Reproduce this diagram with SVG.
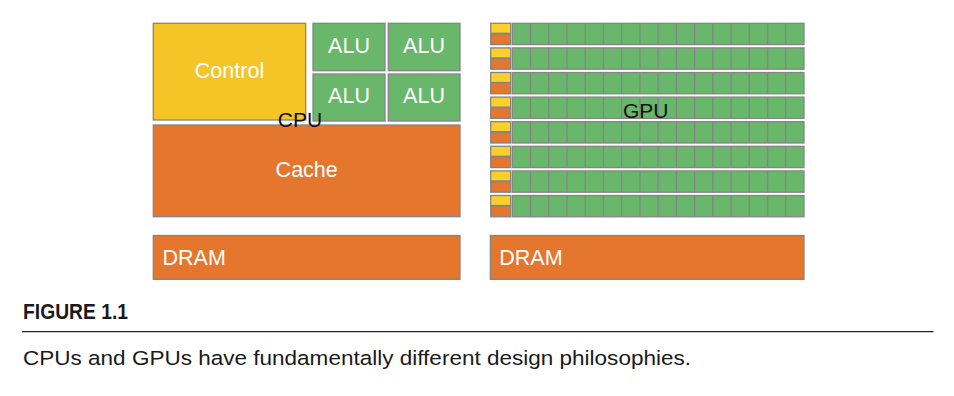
<svg xmlns="http://www.w3.org/2000/svg" xmlns:xlink="http://www.w3.org/1999/xlink" width="954" height="396" viewBox="0 0 954 396">
<style>
.box{stroke:#858585;stroke-width:1.3}
.yel{fill:#F5C427}
.gyel{fill:#FCCF2A}
.org{fill:#E5762D}
.grn{fill:#69B76A}
.lbl{font-family:"Liberation Sans",Arial,sans-serif;font-size:21.5px;fill:#ffffff}
.mid{text-anchor:middle}
.dark{font-family:"Liberation Sans",Arial,sans-serif;font-size:21px;fill:#111111;text-anchor:middle}
</style>
<defs>
<g id="gpurow">
<rect class="box gyel" x="0" y="0" width="20" height="10"/>
<rect class="box org" x="0" y="10.7" width="20" height="10.6"/>
<rect class="box grn" x="21.6" y="0" width="291.7" height="21.3"/>
<path stroke="#858585" stroke-width="1.3" fill="none" d="M39.83 0V21.3M58.06 0V21.3M76.29 0V21.3M94.52 0V21.3M112.75 0V21.3M130.98 0V21.3M149.21 0V21.3M167.44 0V21.3M185.67 0V21.3M203.9 0V21.3M222.13 0V21.3M240.36 0V21.3M258.59 0V21.3M276.82 0V21.3M295.05 0V21.3"/>
</g>
</defs>
<rect width="954" height="396" fill="#ffffff"/>
<g id="cpu">
<g id="control"><rect class="box yel" x="153.3" y="23.3" width="152.4" height="96.7"/><text class="lbl mid" x="229.5" y="78">Control</text></g>
<g id="alu1"><rect class="box grn" x="313" y="23.3" width="72" height="47.4"/><text class="lbl mid" x="349" y="53">ALU</text></g>
<g id="alu2"><rect class="box grn" x="388.3" y="23.3" width="71.7" height="47.4"/><text class="lbl mid" x="424" y="53">ALU</text></g>
<g id="alu3"><rect class="box grn" x="313" y="74" width="72" height="47"/><text class="lbl mid" x="349" y="103">ALU</text></g>
<g id="alu4"><rect class="box grn" x="388.3" y="74" width="71.7" height="47"/><text class="lbl mid" x="424" y="103">ALU</text></g>
<g id="cache"><rect class="box org" x="153.3" y="125" width="306.7" height="91.7"/><text class="lbl mid" x="306.7" y="177">Cache</text></g>
<g id="cpu-label"><text class="dark" x="300" y="127">CPU</text></g>
</g>
<g id="gpu">
<use xlink:href="#gpurow" href="#gpurow" transform="translate(490.7,23.3)"/>
<use xlink:href="#gpurow" href="#gpurow" transform="translate(490.7,47.9)"/>
<use xlink:href="#gpurow" href="#gpurow" transform="translate(490.7,72.5)"/>
<use xlink:href="#gpurow" href="#gpurow" transform="translate(490.7,97.1)"/>
<use xlink:href="#gpurow" href="#gpurow" transform="translate(490.7,121.7)"/>
<use xlink:href="#gpurow" href="#gpurow" transform="translate(490.7,146.3)"/>
<use xlink:href="#gpurow" href="#gpurow" transform="translate(490.7,170.9)"/>
<use xlink:href="#gpurow" href="#gpurow" transform="translate(490.7,195.5)"/>
<g id="gpu-label"><text class="dark" x="645.7" y="117.7">GPU</text></g>
</g>
<g id="dram-cpu"><rect class="box org" x="153.3" y="235.5" width="306.7" height="43.8"/><text class="lbl" x="162.5" y="264.5">DRAM</text></g>
<g id="dram-gpu"><rect class="box org" x="490.3" y="235.5" width="313.7" height="43.8"/><text class="lbl" x="499.3" y="264.5">DRAM</text></g>
<g id="connectors"></g>
<g id="caption">
<text x="23" y="319.3" font-family="'Liberation Sans',Arial,sans-serif" font-weight="bold" font-size="22.5" fill="#1a1a1a" textLength="105" lengthAdjust="spacingAndGlyphs">FIGURE 1.1</text>
<line x1="22" y1="331.7" x2="933.5" y2="331.7" stroke="#222222" stroke-width="1.3"/>
<text x="23" y="365" font-family="'Liberation Sans',Arial,sans-serif" font-size="20.5" fill="#1a1a1a" textLength="668" lengthAdjust="spacingAndGlyphs">CPUs and GPUs have fundamentally different design philosophies.</text>
</g>
</svg>
